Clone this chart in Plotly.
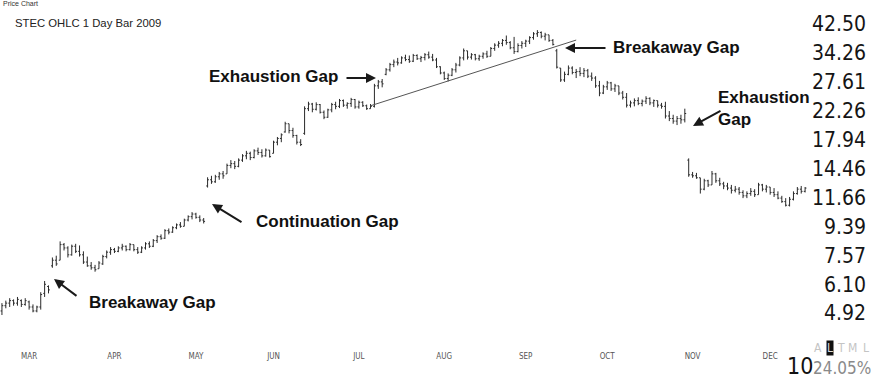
import math
import pandas as pd
import plotly.graph_objects as go

# ---------------- data ----------------
open_ = [
    5.00, 5.20, 5.30, 5.40, 5.30, 5.40, 5.25, 5.35, 5.15, 5.00, 5.15, 5.70, 6.00,
    7.00, 7.30, 7.30, 8.20, 8.00, 7.60, 8.10, 7.80, 7.60, 7.20, 7.00, 6.90, 6.85,
    7.10, 7.50, 7.75, 7.90, 7.80, 8.00, 8.10, 7.90, 8.20, 7.90, 7.75, 8.00, 8.25,
    8.10, 8.45, 8.70, 8.60, 9.10, 9.00, 9.30, 9.50, 9.40, 9.85, 10.10, 10.30, 10.05,
    9.85,
    12.70, 13.30, 13.10, 13.60, 13.90, 13.90, 14.80, 15.00, 14.70, 15.40, 15.90,
    16.20, 15.70, 16.50, 16.30, 15.90, 16.60, 16.20, 17.60, 18.10, 19.00, 20.20,
    19.20, 18.50, 17.60,
    18.80, 22.60, 23.40, 22.50, 23.30, 22.00, 21.20, 22.40, 23.30, 23.00, 24.00,
    23.20, 23.50, 24.20, 22.90, 23.70, 23.10, 22.60,
    23.00, 26.80, 27.60, 29.20, 30.20, 31.40, 32.00, 31.80, 33.00, 32.60, 32.20,
    33.60, 32.80, 33.10, 33.80, 33.20, 32.50, 30.90, 29.50, 28.30, 29.00, 30.20,
    31.30, 33.00, 34.80, 33.20, 33.80, 32.80, 33.40, 34.00, 33.40, 35.40, 36.30,
    36.80, 37.60, 37.00, 35.60, 34.60, 36.20, 36.80, 37.40, 38.40, 39.50, 39.90,
    38.80, 39.20, 37.60,
    34.80, 30.60, 28.00, 29.20, 30.60, 29.60, 29.80, 29.40, 30.00, 28.80, 28.40,
    26.80, 25.40, 26.60, 27.40, 26.20, 26.80, 25.40, 24.60, 23.20, 23.60, 24.00,
    23.50, 23.90, 24.40, 23.60, 24.00, 23.20, 23.00, 21.40, 21.00, 20.60, 21.00,
    20.80,
    15.40, 13.80, 13.70, 13.50, 12.40, 13.20, 12.80, 13.90, 13.20, 12.90, 12.70,
    12.50, 12.30, 12.40, 12.10, 11.80, 12.00, 12.20, 11.90, 12.80, 12.40, 12.60,
    12.10, 11.90, 11.60, 11.30, 11.00, 11.50, 12.00, 12.40, 12.20,
]
high = [
    5.30, 5.40, 5.50, 5.45, 5.55, 5.45, 5.50, 5.40, 5.25, 5.20, 5.75, 6.25, 6.05,
    7.45, 7.55, 8.40, 8.30, 8.10, 8.20, 8.25, 8.15, 7.80, 7.50, 7.20, 7.05, 7.25,
    7.60, 7.85, 8.05, 8.00, 8.10, 8.25, 8.15, 8.30, 8.20, 8.05, 8.10, 8.35, 8.40,
    8.55, 8.80, 8.85, 9.20, 9.25, 9.40, 9.60, 9.70, 9.95, 10.20, 10.45, 10.40, 10.20,
    10.00,
    13.55, 13.70, 13.80, 14.10, 14.20, 15.00, 15.40, 15.30, 15.60, 16.10, 16.50,
    16.40, 16.70, 16.90, 16.70, 16.80, 16.60, 17.80, 18.30, 18.80, 20.50, 20.20,
    19.60, 18.60, 18.00,
    23.00, 23.80, 23.60, 23.70, 23.40, 22.30, 22.60, 23.60, 23.80, 24.30, 24.20,
    23.70, 24.50, 24.30, 24.00, 23.90, 23.30, 23.40,
    27.20, 28.00, 28.20, 30.60, 31.80, 32.60, 33.00, 33.40, 33.80, 33.60, 34.00,
    33.90, 33.50, 34.20, 34.60, 34.00, 33.00, 31.00, 29.80, 29.40, 30.60, 31.80,
    33.40, 35.40, 34.80, 34.20, 34.00, 33.80, 34.40, 34.80, 35.80, 36.80, 37.40,
    38.00, 39.00, 37.40, 38.60, 36.80, 37.40, 37.80, 38.80, 40.00, 40.60, 40.20,
    39.80, 39.20, 38.00,
    35.30, 30.60, 29.80, 31.20, 31.00, 30.40, 30.80, 30.60, 30.40, 29.60, 28.80,
    27.80, 27.00, 27.80, 27.60, 27.20, 26.80, 25.80, 25.40, 24.00, 24.40, 24.60,
    24.20, 24.80, 24.60, 24.20, 24.00, 23.60, 23.80, 22.20, 21.60, 21.40, 21.60,
    22.60,
    15.60, 14.10, 14.00, 13.50, 13.40, 13.30, 14.20, 14.00, 13.50, 13.10, 13.00,
    12.80, 12.70, 12.60, 12.30, 12.20, 12.50, 12.40, 13.00, 12.90, 12.80, 12.60,
    12.50, 12.20, 11.80, 11.60, 11.70, 12.20, 12.60, 12.70, 12.60,
]
low = [
    4.85, 5.10, 5.15, 5.20, 5.20, 5.15, 5.20, 5.05, 4.95, 4.95, 5.05, 5.55, 5.70,
    6.90, 7.00, 7.30, 7.85, 7.45, 7.55, 7.70, 7.50, 7.10, 6.95, 6.80, 6.70, 6.85,
    7.05, 7.40, 7.60, 7.70, 7.75, 7.85, 7.80, 7.85, 7.80, 7.65, 7.70, 7.90, 8.00,
    8.05, 8.30, 8.50, 8.55, 8.85, 8.95, 9.20, 9.30, 9.40, 9.75, 9.90, 9.95, 9.70,
    9.60,
    12.55, 12.90, 13.00, 13.30, 13.40, 13.90, 14.50, 14.40, 14.60, 15.20, 15.50,
    15.40, 15.60, 16.00, 15.70, 15.80, 15.70, 16.20, 17.20, 17.60, 18.90, 18.80,
    18.20, 17.30, 17.10,
    18.60, 22.20, 22.00, 22.30, 21.80, 20.90, 21.10, 22.00, 22.50, 22.70, 22.90,
    22.60, 22.90, 22.60, 22.60, 22.90, 22.40, 22.60,
    22.80, 26.20, 26.50, 29.00, 29.80, 30.80, 31.20, 31.60, 32.20, 31.80, 32.00,
    32.50, 32.00, 32.40, 32.80, 32.20, 30.60, 29.20, 28.00, 27.70, 28.80, 29.60,
    31.00, 32.40, 32.60, 32.60, 32.40, 32.30, 32.80, 33.00, 33.40, 34.80, 35.60,
    36.00, 36.40, 35.20, 34.00, 34.40, 35.40, 35.80, 36.60, 37.80, 38.60, 38.20,
    37.60, 37.20, 36.20,
    30.50, 27.60, 27.60, 29.00, 29.20, 28.40, 28.80, 28.60, 28.40, 27.80, 26.40,
    24.80, 25.20, 26.00, 25.80, 25.60, 25.00, 24.20, 22.80, 22.80, 23.00, 23.20,
    23.00, 23.40, 23.20, 22.90, 22.80, 22.60, 21.00, 20.60, 20.20, 20.00, 20.20,
    20.40,
    13.60, 13.50, 13.40, 12.00, 12.30, 12.60, 12.80, 13.00, 12.70, 12.40, 12.30,
    12.00, 12.10, 11.90, 11.60, 11.60, 11.80, 11.70, 11.90, 12.20, 12.10, 11.90,
    11.70, 11.50, 11.20, 10.90, 10.90, 11.40, 11.90, 12.00, 12.10,
]
close = [
    5.20, 5.30, 5.40, 5.30, 5.45, 5.25, 5.40, 5.15, 5.00, 5.15, 5.65, 6.10, 5.85,
    7.30, 7.10, 8.20, 8.00, 7.60, 8.10, 7.80, 7.60, 7.20, 7.00, 6.90, 6.80, 7.15,
    7.50, 7.75, 7.90, 7.80, 8.00, 8.10, 7.90, 8.20, 7.90, 7.75, 8.00, 8.25, 8.10,
    8.45, 8.70, 8.60, 9.10, 9.00, 9.30, 9.50, 9.40, 9.85, 10.10, 10.30, 10.05, 9.85,
    9.75,
    13.30, 13.10, 13.60, 13.90, 13.70, 14.80, 15.00, 14.70, 15.40, 15.90, 16.20,
    15.70, 16.50, 16.30, 15.90, 16.60, 15.80, 17.60, 18.10, 18.60, 20.20, 19.20,
    18.50, 17.60, 17.30,
    22.60, 23.40, 22.50, 23.30, 22.00, 21.20, 22.40, 23.30, 23.00, 24.00, 23.20,
    23.50, 24.20, 22.90, 23.70, 23.10, 22.60, 23.00,
    26.80, 27.60, 27.20, 30.20, 31.40, 32.00, 31.80, 33.00, 32.60, 32.20, 33.60,
    32.80, 33.10, 33.80, 33.20, 32.50, 30.90, 29.50, 28.30, 29.00, 30.20, 31.30,
    33.00, 34.80, 33.20, 33.80, 32.80, 33.40, 34.00, 33.40, 35.40, 36.30, 36.80,
    37.60, 37.00, 35.60, 34.60, 36.20, 36.80, 37.40, 38.40, 39.50, 39.90, 38.80,
    39.20, 37.60, 36.50,
    30.80, 28.00, 29.20, 30.60, 29.60, 29.80, 29.40, 30.00, 28.80, 28.40, 26.80,
    25.40, 26.60, 27.40, 26.20, 26.80, 25.40, 24.60, 23.20, 23.60, 24.00, 23.50,
    23.90, 24.40, 23.60, 24.00, 23.20, 23.00, 21.40, 21.00, 20.60, 21.00, 20.80,
    21.80,
    13.80, 13.70, 13.50, 12.40, 13.20, 12.80, 13.90, 13.20, 12.90, 12.70, 12.50,
    12.30, 12.40, 12.10, 11.80, 12.00, 12.20, 11.90, 12.80, 12.40, 12.60, 12.10,
    11.90, 11.60, 11.30, 11.00, 11.50, 12.00, 12.40, 12.20, 12.50,
]

holidays = ["2009-04-10", "2009-05-25", "2009-07-03", "2009-09-07", "2009-11-26"]
month_labels = ["MAR", "APR", "MAY", "JUN", "JUL", "AUG", "SEP", "OCT", "NOV", "DEC"]
price_ticks = [4.92, 6.10, 7.57, 9.39, 11.66, 14.46, 17.94, 22.26, 27.61, 34.26, 42.50]
trend_dates = ["2009-07-07", "2009-09-21"]
trend_prices = [23.1, 37.7]

# ---------------- derived ----------------
days = [d for d in pd.bdate_range("2009-02-19", "2009-12-31")
        if d.strftime("%Y-%m-%d") not in holidays][:len(close)]
dates = [d.strftime("%Y-%m-%d") for d in days]
tickvals = []
for m in range(3, 13):
    for d in days:
        if d.month == m:
            tickvals.append(d.strftime("%Y-%m-%d"))
            break

W, H = 869, 340  # plot area in pixels


def X(px):
    return px / W


def Y(py):
    return 1 - py / H


fig = go.Figure()
fig.add_trace(go.Ohlc(
    x=dates, open=open_, high=high, low=low, close=close,
    increasing=dict(line=dict(color="#2a2a2a", width=1)),
    decreasing=dict(line=dict(color="#2a2a2a", width=1)),
    tickwidth=0.35, showlegend=False,
))
fig.add_trace(go.Scatter(
    x=trend_dates, y=trend_prices, mode="lines",
    line=dict(color="#555555", width=1), showlegend=False, hoverinfo="skip",
))

bold = dict(family="Arial, Liberation Sans, sans-serif", size=17, color="#111111")
ann = []


def text(t, left, cy, font, **kw):
    ann.append(dict(text=t, x=X(left), y=Y(cy), xref="paper", yref="paper",
                    xanchor="left", yanchor="middle", showarrow=False,
                    font=font, **kw))


def arrow(hx, hy, tx, ty):
    ann.append(dict(text="", x=X(hx), y=Y(hy), xref="paper", yref="paper",
                    ax=tx - hx, ay=ty - hy, showarrow=True, arrowhead=2,
                    arrowsize=1, arrowwidth=2, arrowcolor="#1a1a1a"))


text("Price Chart", 1, 4, dict(family="Arial, Liberation Sans", size=7, color="#333"))
text("STEC OHLC 1 Day Bar 2009", 13, 23,
     dict(family="Arial, Liberation Sans", size=11.3, color="#222"))
text("<b>Breakaway Gap</b>", 87, 302, bold)
text("<b>Continuation Gap</b>", 254, 221, bold)
text("<b>Exhaustion Gap</b>", 207, 76, bold)
text("<b>Breakaway Gap</b>", 611, 48, bold)
text("<b>Exhaustion<br>Gap</b>", 716, 108, bold, align="left")

arrow(54, 279, 78, 297)
arrow(212, 204, 243, 223)
arrow(376, 78, 345, 78)
arrow(565, 48, 607, 48)
arrow(693, 126, 722, 110)

cond = "DejaVu Sans Condensed, DejaVu Sans"
text("10", 785, 366, dict(family=cond, size=23, color="#111"))
text("24.05%", 811, 368, dict(family=cond, size=17, color="#8a8a8a"))
for ch, cx in [("A", 818), ("T", 841), ("M", 852.5), ("L", 866)]:
    ann.append(dict(text=ch, x=X(cx), y=Y(348), xref="paper", yref="paper",
                    xanchor="center", yanchor="middle", showarrow=False,
                    font=dict(family=cond, size=12, color="#c4c4c4")))
ann.append(dict(text="L", x=X(829.5), y=Y(348), xref="paper", yref="paper",
                xanchor="center", yanchor="middle", showarrow=False,
                bgcolor="#111", borderpad=0,
                font=dict(family=cond, size=12, color="#dddddd")))

fig.update_layout(
    width=871, height=378,
    margin=dict(l=0, r=2, t=0, b=38),
    paper_bgcolor="white", plot_bgcolor="white",
    showlegend=False,
    annotations=ann,
    xaxis=dict(
        type="category", range=[-0.5, 223.47],
        tickvals=tickvals, ticktext=month_labels,
        showgrid=False, zeroline=False, showline=False,
        ticks="outside", ticklen=8, tickcolor="rgba(0,0,0,0)",
        tickfont=dict(family=cond, size=8, color="#555"),
        rangeslider=dict(visible=False),
    ),
    yaxis=dict(
        type="log", side="right",
        range=[math.log10(4.026), math.log10(50.83)],
        tickvals=price_ticks, ticktext=[f"{v:.2f}" for v in price_ticks],
        ticklabelposition="inside", ticks="",
        showgrid=False, zeroline=False, showline=False,
        tickfont=dict(family=cond, size=21, color="#151515"),
    ),
)

fig.write_html(
    "out.html",
    config={"displayModeBar": False},
    post_script="document.body.style.margin='0';document.body.style.overflow='hidden';",
)
